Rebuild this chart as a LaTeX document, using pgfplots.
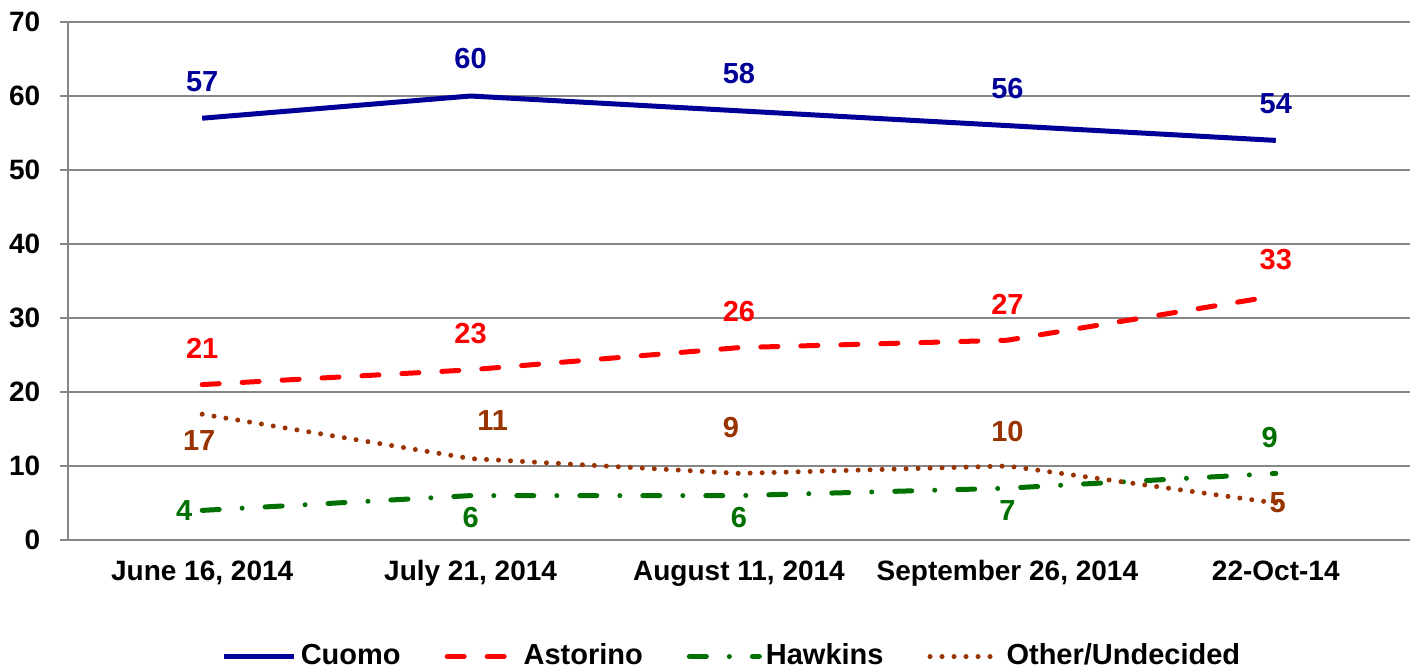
\documentclass[border=0pt]{standalone}
\usepackage{pgfplots}
\pgfplotsset{compat=1.18}
\usepackage{fontspec}
\setmainfont{Liberation Sans}
\definecolor{cuomo}{RGB}{0,0,153}
\definecolor{astor}{RGB}{255,0,0}
\definecolor{hawk}{RGB}{0,112,0}
\definecolor{other}{RGB}{153,51,0}
\definecolor{axgray}{RGB}{134,134,134}
\begin{document}
\bfseries\fontsize{14}{16}\selectfont
\begin{tikzpicture}
\begin{axis}[
  scale only axis, width=671pt, height=259pt,
  xmin=-0.5, xmax=4.5, ymin=0, ymax=70,
  axis x line*=bottom, axis y line*=left,
  axis line style={axgray, line width=1pt},
  xtick={0,1,2,3,4},
  xticklabels={June 16{,} 2014, July 21{,} 2014, August 11{,} 2014, September 26{,} 2014, 22-Oct-14},
  minor xtick={-0.5,0.5,1.5,2.5,3.5,4.5},
  ytick={0,10,...,70},
  ymajorgrids, grid style={axgray, line width=1pt},
  tick align=outside,
  x tick style={draw=none},
  y tick style={axgray, line width=1pt},
  minor tick style={axgray, line width=1pt},
  major tick length=4pt, minor tick length=4pt,
  /pgf/number format/assume math mode=true,
  ticklabel style={font=\bfseries\fontsize{14}{16}\selectfont, text=black},
  xticklabel style={yshift=-1.5pt, text height=10pt, text depth=3pt},
  yticklabel style={xshift=-5pt},
  legend columns=4,
  legend style={draw=none, at={(0.5,-0.225)}, anchor=center, xshift=-3pt, font=\bfseries\fontsize{14.5}{16}\selectfont,
    /tikz/every even column/.append style={column sep=20pt}},
  legend image code/.code={\draw[#1] (0pt,0pt) -- (35pt,0pt);},
  legend cell align=left,
  clip=false,
]
\addplot[cuomo, line width=2.5pt] coordinates {(0,57) (1,60) (2,58) (3,56) (4,54)};
\addlegendentry{Cuomo}
\addplot[astor, line width=2.5pt, line cap=round, dash pattern=on 8.5pt off 11.5pt] coordinates {(0,21) (1,23) (2,26) (3,27) (4,33)};
\addlegendentry{Astorino}
\addplot[hawk, line width=2.5pt, line cap=round, dash pattern=on 8.5pt off 11.5pt on 0pt off 11.5pt] coordinates {(0,4) (1,6) (2,6) (3,7) (4,9)};
\addlegendentry{Hawkins}
\addplot[other, line width=2.5pt, line cap=round, dash pattern=on 0pt off 6pt] coordinates {(0,17) (1,11) (2,9) (3,10) (4,5)};
\addlegendentry{Other/Undecided}
\coordinate (bl) at (rel axis cs:0,0);
% labels
\begin{scope}[every node/.style={text=cuomo, inner sep=0pt, font=\bfseries\fontsize{14.5}{16}\selectfont}]
\node[yshift=18.5pt] at (axis cs:0,57) {57};
\node[yshift=18.5pt] at (axis cs:1,60) {60};
\node[yshift=18.5pt] at (axis cs:2,58) {58};
\node[yshift=18.5pt] at (axis cs:3,56) {56};
\node[yshift=18.5pt] at (axis cs:4,54) {54};
\end{scope}
\begin{scope}[every node/.style={text=astor, inner sep=0pt, font=\bfseries\fontsize{14.5}{16}\selectfont}]
\node[yshift=18pt] at (axis cs:0,21) {21};
\node[yshift=18pt] at (axis cs:1,23) {23};
\node[yshift=18pt] at (axis cs:2,26) {26};
\node[yshift=18pt] at (axis cs:3,27) {27};
\node[yshift=18pt] at (axis cs:4,33) {33};
\end{scope}
\begin{scope}[every node/.style={text=hawk, inner sep=0pt, font=\bfseries\fontsize{14.5}{16}\selectfont}]
\node[xshift=-9pt] at (axis cs:0,4) {4};
\node[yshift=-11pt] at (axis cs:1,6) {6};
\node[yshift=-11pt] at (axis cs:2,6) {6};
\node[yshift=-11pt] at (axis cs:3,7) {7};
\node[xshift=-3pt, yshift=18pt] at (axis cs:4,9) {9};
\end{scope}
\begin{scope}[every node/.style={text=other, inner sep=0pt, font=\bfseries\fontsize{14.5}{16}\selectfont}]
\node[xshift=-1.5pt, yshift=-13pt] at (axis cs:0,17) {17};
\node[xshift=11pt, yshift=19pt] at (axis cs:1,11) {11};
\node[xshift=-4pt, yshift=23pt] at (axis cs:2,9) {9};
\node[yshift=17pt] at (axis cs:3,10) {10};
\node[xshift=1pt] at (axis cs:4,5) {5};
\end{scope}
\end{axis}
\pgfresetboundingbox
\path ([shift={(-34pt,-65.5pt)}]bl) rectangle ([shift={(676pt,270pt)}]bl);
\end{tikzpicture}
\end{document}
